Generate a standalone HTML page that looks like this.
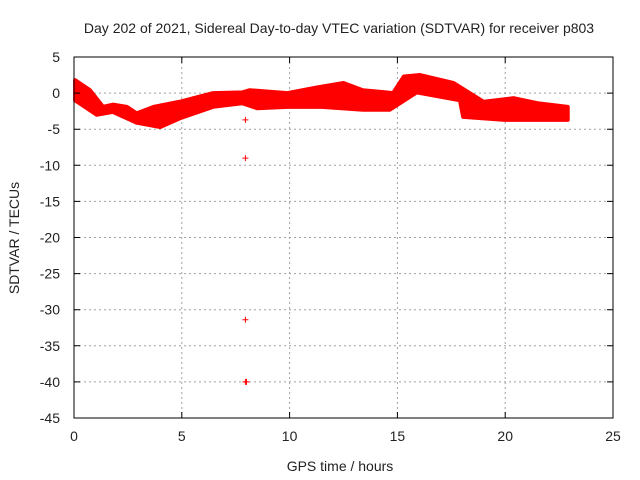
<!DOCTYPE html>
<html><head><meta charset="utf-8"><style>
body{margin:0;background:#fff;}
svg{display:block;font-family:"Liberation Sans",sans-serif;}
</style></head><body>
<svg id="c" width="640" height="480"></svg>
<script>
const xTicks=[0,5,10,15,20,25];
const yTicks=[5,0,-5,-10,-15,-20,-25,-30,-35,-40,-45];
const topH=[0.05,0.74,1.35,1.8,2.45,2.9,3.7,4.9,6.45,7.8,8.15,9.9,11.3,12.5,13.4,14.8,15.3,16.05,17.6,19.0,20.4,21.5,22.9];
const topV=[1.8,0.4,-1.9,-1.6,-1.9,-2.8,-1.9,-1.2,0,0.1,0.4,0,0.8,1.4,0.4,0,2.3,2.5,1.4,-1.2,-0.7,-1.4,-1.9];
const botH=[0.05,1.05,1.8,2.9,4.0,4.9,6.45,7.8,8.5,9.9,11.5,13.4,14.65,15.9,17.9,18.05,19.9,22.9];
const botV=[-1.0,-3.0,-2.6,-4.1,-4.7,-3.5,-1.9,-1.4,-2.1,-1.9,-1.9,-2.3,-2.3,0.1,-1.0,-3.3,-3.7,-3.7];
const outH=[7.95,7.95,7.95,7.95,8.0];
const outV=[-3.7,-9.0,-31.4,-40.0,-40.0];
const X0=74,X1=613,Y0=57,Y1=418;
const sx=h=>X0+(h-0)/(25-0)*(X1-X0);
const sy=v=>Y0+(5-v)/(5-(-45))*(Y1-Y0);
const svg=document.getElementById('c');
const NS='http://www.w3.org/2000/svg';
function mk(t,a,txt){const e=document.createElementNS(NS,t);for(const k in a)e.setAttribute(k,a[k]);if(txt!=null)e.textContent=txt;svg.appendChild(e);return e;}
xTicks.forEach(t=>{if(t>0&&t<25){const g=mk('line',{x1:sx(t),x2:sx(t),y1:Y0,y2:Y1,stroke:'#a0a0a0','stroke-dasharray':'2,3'});

}});
yTicks.forEach(t=>{if(t<5&&t>-45){const g=mk('line',{x1:X0,x2:X1,y1:sy(t),y2:sy(t),stroke:'#a0a0a0','stroke-dasharray':'2,3'});

}});
let pts=topH.map((h,i)=>sx(h)+','+sy(topV[i]));
for(let i=botH.length-1;i>=0;i--)pts.push(sx(botH[i])+','+sy(botV[i]));
const band=mk('polygon',{points:pts.join(' '),fill:'#ff0000',stroke:'#ff0000','stroke-width':4,'stroke-linejoin':'round'});


outH.forEach((h,i)=>{const x=sx(h),y=sy(outV[i]);
const p=mk('path',{d:`M${x-3},${y}H${x+3}M${x},${y-3}V${y+3}`,stroke:'#ff0000','stroke-width':1});

});
const f=mk('rect',{x:X0,y:Y0,width:X1-X0,height:Y1-Y0,fill:'none',stroke:'#000'});


xTicks.forEach(t=>{const x=sx(t);
mk('path',{d:`M${x},${Y1}v-6M${x},${Y0}v6`,stroke:'#000'});
const l=mk('text',{x:x,y:Y1+23,'text-anchor':'middle','font-size':14,fill:'#222'},t);

});
yTicks.forEach(t=>{const y=sy(t);
mk('path',{d:`M${X0},${y}h6M${X1},${y}h-6`,stroke:'#000'});
const l=mk('text',{x:X0-14,y:y+5,'text-anchor':'end','font-size':14,fill:'#222'},t);

});
const ti=mk('text',{x:339,y:33,'text-anchor':'middle','font-size':14,fill:'#222'},'Day 202 of 2021, Sidereal Day-to-day VTEC variation (SDTVAR) for receiver p803');


const xt=mk('text',{x:340,y:471,'text-anchor':'middle','font-size':14,fill:'#222'},'GPS time / hours');


const yt=mk('text',{x:0,y:0,'text-anchor':'middle','font-size':14,fill:'#222',transform:'translate(19,238) rotate(-90)'},'SDTVAR / TECUs');


</script>
</body></html>
